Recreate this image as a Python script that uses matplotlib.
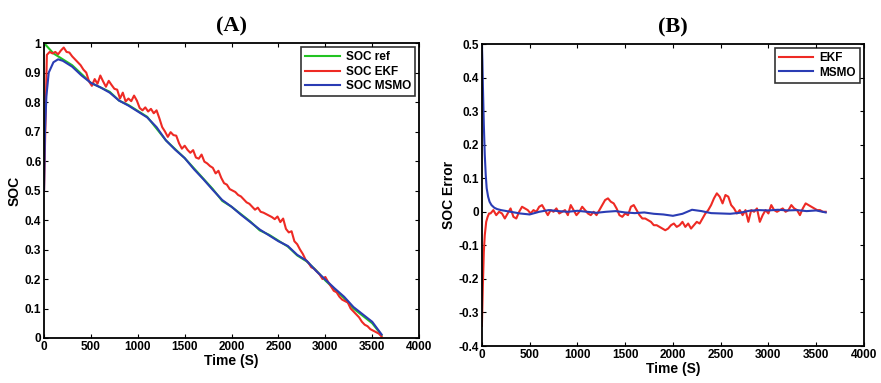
import numpy as np
import matplotlib
matplotlib.use("Agg")
import matplotlib.pyplot as plt
from matplotlib.ticker import FuncFormatter

# ---- (A) SOC estimation ----
t_ref = [0, 100, 200, 300, 400, 500, 600, 700, 800, 900, 1000, 1100, 1200, 1300,
         1400, 1500, 1600, 1700, 1800, 1900, 2000, 2100, 2200, 2300, 2400, 2500,
         2600, 2700, 2800, 2900, 3000, 3100, 3200, 3300, 3400, 3500, 3600]
soc_ref = [1.0, 0.965, 0.945, 0.925, 0.895, 0.865, 0.85, 0.835, 0.805, 0.79, 0.77,
           0.75, 0.71, 0.67, 0.64, 0.61, 0.575, 0.54, 0.505, 0.465, 0.445, 0.42,
           0.395, 0.365, 0.35, 0.33, 0.31, 0.28, 0.26, 0.23, 0.195, 0.165, 0.135,
           0.10, 0.075, 0.05, 0.01]

t_msmo = [0, 10, 25, 50, 100, 150, 200, 300, 400, 500, 600, 700, 800, 900, 1000,
          1100, 1200, 1300, 1400, 1500, 1600, 1700, 1800, 1900, 2000, 2100, 2200,
          2300, 2400, 2500, 2600, 2700, 2800, 2900, 3000, 3100, 3200, 3300, 3400,
          3500, 3600]
soc_msmo = [0.50, 0.70, 0.82, 0.90, 0.935, 0.945, 0.94, 0.92, 0.89, 0.865, 0.85,
            0.832, 0.805, 0.788, 0.768, 0.748, 0.715, 0.67, 0.638, 0.61, 0.572,
            0.538, 0.502, 0.468, 0.445, 0.418, 0.393, 0.368, 0.348, 0.328, 0.312,
            0.282, 0.262, 0.228, 0.198, 0.168, 0.14, 0.105, 0.08, 0.055, 0.012]

# EKF estimate, every 30 s from t = 0
soc_ekf = [0.50, 0.96, 0.97, 0.965, 0.97, 0.962, 0.975, 0.985, 0.97, 0.968, 0.955,
           0.945, 0.935, 0.925, 0.91, 0.90, 0.87, 0.855, 0.878, 0.862, 0.89, 0.87,
           0.852, 0.872, 0.858, 0.845, 0.842, 0.812, 0.832, 0.802, 0.812, 0.803, 0.822,
           0.805, 0.78, 0.772, 0.782, 0.768, 0.777, 0.762, 0.772, 0.745, 0.715, 0.70,
           0.682, 0.698, 0.688, 0.686, 0.66, 0.642, 0.652, 0.638, 0.628, 0.637, 0.612,
           0.608, 0.622, 0.598, 0.592, 0.583, 0.577, 0.558, 0.567, 0.543, 0.525, 0.52,
           0.505, 0.50, 0.495, 0.485, 0.48, 0.47, 0.46, 0.455, 0.445, 0.435, 0.442,
           0.428, 0.425, 0.42, 0.415, 0.41, 0.403, 0.412, 0.393, 0.405, 0.37, 0.358,
           0.362, 0.328, 0.318, 0.30, 0.285, 0.265, 0.255, 0.24, 0.235, 0.225, 0.215,
           0.20, 0.207, 0.19, 0.175, 0.16, 0.155, 0.14, 0.13, 0.125, 0.12, 0.10,
           0.09, 0.08, 0.07, 0.055, 0.045, 0.04, 0.03, 0.025, 0.02, 0.015, 0.005]

# ---- (B) SOC error ----
t_err_ekf_early = [0, 10, 20, 30, 45, 60, 75]
err_ekf_early = [-0.34, -0.22, -0.12, -0.07, -0.03, -0.015, -0.005]
# from t = 90 s, every 30 s
err_ekf_main = [-0.005, 0.005, -0.01, 0.0, -0.005, -0.02, -0.005, 0.01, -0.015, -0.02,
                0.0, 0.015, 0.01, 0.005, -0.005, 0.005, 0.0, 0.015, 0.02, 0.005,
                -0.01, 0.005, 0.0, 0.01, -0.005, 0.0, 0.005, -0.01, 0.02, 0.005,
                -0.01, 0.0, 0.015, 0.005, -0.005, -0.01, 0.0, -0.01, 0.005, 0.02,
                0.035, 0.04, 0.03, 0.025, 0.01, -0.01, -0.015, -0.005, -0.01, 0.015,
                0.02, 0.005, -0.01, -0.02, -0.02, -0.025, -0.03, -0.04, -0.04, -0.045,
                -0.05, -0.055, -0.05, -0.04, -0.035, -0.045, -0.04, -0.03, -0.045, -0.035,
                -0.05, -0.04, -0.03, -0.035, -0.02, -0.005, 0.005, 0.02, 0.04, 0.055,
                0.045, 0.025, 0.05, 0.045, 0.02, 0.01, -0.005, 0.005, -0.01, 0.005,
                -0.03, 0.005, 0.0, 0.01, -0.03, -0.01, 0.005, -0.005, 0.02, 0.005,
                0.0, 0.005, 0.01, 0.0, 0.005, 0.02, 0.01, 0.005, -0.01, 0.01,
                0.025, 0.02, 0.015, 0.01, 0.005, 0.005, 0.0, 0.0]

t_err_msmo = [0, 5, 10, 15, 20, 30, 40, 50, 65, 80, 100, 130, 160, 200, 300, 400,
              500, 600, 700, 800, 900, 1000, 1100, 1200, 1300, 1400, 1500, 1600, 1700,
              1800, 1900, 2000, 2100, 2200, 2300, 2400, 2500, 2600, 2700, 2800, 2900,
              3000, 3100, 3200, 3300, 3400, 3500, 3600]
err_msmo = [0.5, 0.45, 0.38, 0.32, 0.26, 0.17, 0.11, 0.07, 0.045, 0.03, 0.02, 0.012,
            0.008, 0.005, 0.0, -0.005, -0.008, 0.0, 0.005, 0.002, 0.0, 0.003, 0.0,
            -0.003, 0.0, 0.002, -0.002, -0.004, -0.002, -0.006, -0.008, -0.012,
            -0.006, 0.006, 0.002, -0.004, -0.005, -0.006, -0.003, 0.003, 0.005,
            0.004, 0.006, 0.004, 0.005, 0.002, 0.004, -0.002]

GREEN = "#22c322"
RED = "#ee2a24"
BLUE = "#2a3cb4"

plt.rcParams["font.family"] = ["Liberation Sans", "DejaVu Sans"]
plt.rcParams["font.weight"] = "bold"

fig = plt.figure(figsize=(8.81, 3.83), dpi=100)
ax1 = fig.add_axes([0.050, 0.1175, 0.4257, 0.770])
ax2 = fig.add_axes([0.547, 0.0966, 0.4336, 0.7885])

t_ekf = 30 * np.arange(len(soc_ekf))
ax1.plot(t_ref, soc_ref, color=GREEN, lw=1.5, label="SOC ref")
ax1.plot(t_ekf, soc_ekf, color=RED, lw=1.5, label="SOC EKF")
ax1.plot(t_msmo, soc_msmo, color=BLUE, lw=1.5, label="SOC MSMO")
ax1.set_ylim(0, 1)
ax1.set_yticks(np.arange(0, 1.01, 0.1))
ax1.set_ylabel("SOC", fontsize=10, fontweight="bold", labelpad=2)

t_ekf_err = np.concatenate([t_err_ekf_early, 90 + 30 * np.arange(len(err_ekf_main))])
ax2.plot(t_ekf_err, err_ekf_early + err_ekf_main, color=RED, lw=1.5, label="EKF")
ax2.plot(t_err_msmo, err_msmo, color=BLUE, lw=1.5, label="MSMO")
ax2.set_ylim(-0.4, 0.5)
ax2.set_yticks(np.arange(-0.4, 0.51, 0.1))
ax2.set_ylabel("SOC Error", fontsize=10, fontweight="bold", labelpad=2)

fmt = FuncFormatter(lambda v, p: "%g" % (round(v, 2) + 0.0))
for ax, title in ((ax1, "(A)"), (ax2, "(B)")):
    ax.set_xlim(0, 4000)
    ax.set_xticks(np.arange(0, 4001, 500))
    ax.yaxis.set_major_formatter(fmt)
    ax.tick_params(direction="in", top=True, right=True, length=3, width=0.8,
                   labelsize=8.5, pad=2)
    for lbl in ax.get_xticklabels() + ax.get_yticklabels():
        lbl.set_fontweight("bold")
    for sp in ax.spines.values():
        sp.set_linewidth(1.3)
    ax.set_xlabel("Time (S)", fontsize=10, fontweight="bold", labelpad=1)
    ax.set_title(title, fontsize=16, fontweight="bold", pad=8,
                 family=["Liberation Serif", "DejaVu Serif"])
    leg = ax.legend(loc="upper right", fontsize=8.5, frameon=True, fancybox=False,
                    borderaxespad=0.35, handlelength=2.9, handletextpad=0.5,
                    labelspacing=0.2, borderpad=0.35)
    leg.get_frame().set_edgecolor("black")
    leg.get_frame().set_linewidth(1.2)
    for txt in leg.get_texts():
        txt.set_fontweight("bold")

fig.savefig("out.png", dpi=100)
